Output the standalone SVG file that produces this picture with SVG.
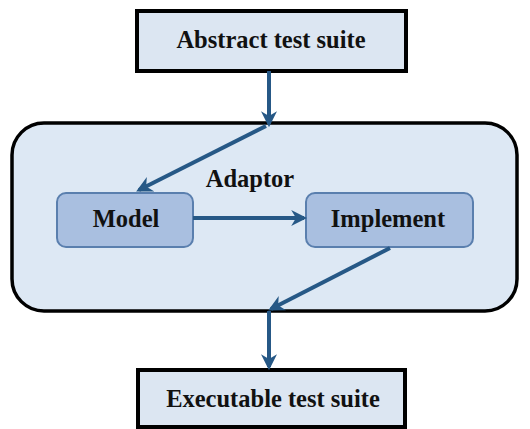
<svg xmlns="http://www.w3.org/2000/svg" width="530" height="429" viewBox="0 0 530 429">
  <style>
    .io { fill: #dce6f2; stroke: #000; stroke-width: 4; }
    .frame { fill: #dde8f4; stroke: #000; stroke-width: 3.5; }
    .step { fill: #a9bfe0; stroke: #5a7fae; stroke-width: 2; }
    .lbl { font-family: "Liberation Serif", "Times New Roman", serif; font-weight: bold; font-size: 24.5px; fill: #111; text-anchor: middle; }
    .edge { fill: none; stroke: #265886; stroke-width: 4; }
  </style>
  <defs>
    <marker id="head" viewBox="0 0 10 10" refX="8" refY="5" markerWidth="4" markerHeight="4" orient="auto" markerUnits="strokeWidth">
      <path d="M0,0 L10,5 L0,10 L3,5 Z" fill="#265886"/>
    </marker>
  </defs>

  <g id="abstract-suite">
    <rect class="io" x="137" y="11" width="269" height="60"/>
    <text class="lbl" x="271" y="48">Abstract test suite</text>
  </g>

  <g id="adaptor">
    <rect class="frame" x="12" y="123" width="505" height="188" rx="32" ry="32"/>
    <text class="lbl" x="250" y="187">Adaptor</text>
  </g>

  <g id="model">
    <rect class="step" x="57" y="193" width="136" height="54" rx="9" ry="9"/>
    <text class="lbl" x="126" y="227">Model</text>
  </g>

  <g id="implement">
    <rect class="step" x="306" y="193" width="167" height="54" rx="9" ry="9"/>
    <text class="lbl" x="388" y="227">Implement</text>
  </g>

  <g id="executable-suite">
    <rect class="io" x="138" y="370" width="267" height="57"/>
    <text class="lbl" x="273" y="407">Executable test suite</text>
  </g>

  <g id="connectors">
    <line class="edge" x1="269" y1="71" x2="269" y2="124" marker-end="url(#head)"/>
    <line class="edge" x1="266" y1="126" x2="139" y2="190" marker-end="url(#head)"/>
    <line class="edge" x1="193" y1="218" x2="304" y2="218" marker-end="url(#head)"/>
    <line class="edge" x1="390" y1="248" x2="271" y2="309" marker-end="url(#head)"/>
    <line class="edge" x1="269" y1="311" x2="269" y2="367" marker-end="url(#head)"/>
  </g>
</svg>
